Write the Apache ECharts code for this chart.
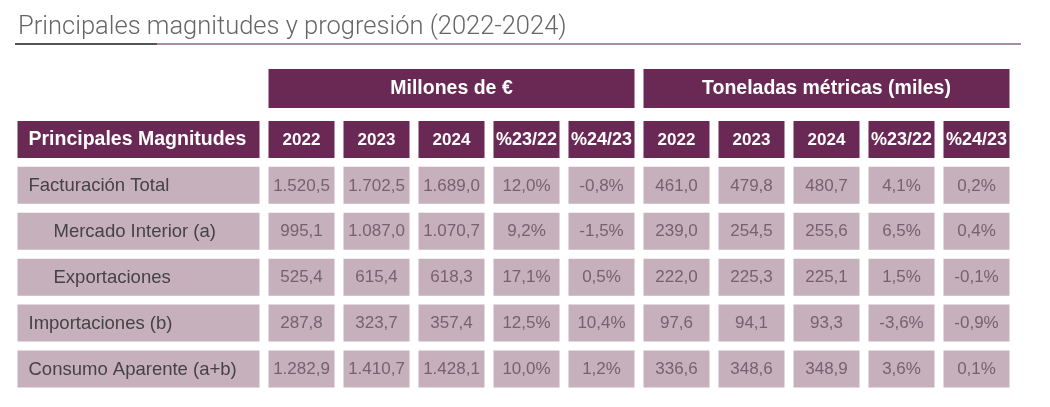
<!DOCTYPE html>
<html>
<head>
<meta charset="utf-8">
<script src="https://cdn.jsdelivr.net/npm/echarts@6/dist/echarts.min.js"></script>
<style>
  html, body { margin: 0; padding: 0; background: #fff; }
  #chart { width: 1050px; height: 407px; }
</style>
</head>
<body>
<div id="chart"></div>
<script>
var titleText = 'Principales magnitudes y progresión (2022-2024)';
var groups = ['Millones de €', 'Toneladas métricas (miles)'];
var columns = ['2022', '2023', '2024', '%23/22', '%24/23', '2022', '2023', '2024', '%23/22', '%24/23'];
var pctColumns = [3, 4, 8, 9];
var rowHeader = 'Principales Magnitudes';
var rows = ['Facturación Total', 'Mercado Interior (a)', 'Exportaciones', 'Importaciones (b)', 'Consumo Aparente (a+b)'];
var rowLevel = [0, 1, 1, 0, 0];

var facturacionTotal = [1520.5, 1702.5, 1689.0, 12.0, -0.8, 461.0, 479.8, 480.7, 4.1, 0.2];
var mercadoInterior = [995.1, 1087.0, 1070.7, 9.2, -1.5, 239.0, 254.5, 255.6, 6.5, 0.4];
var exportaciones = [525.4, 615.4, 618.3, 17.1, 0.5, 222.0, 225.3, 225.1, 1.5, -0.1];
var importaciones = [287.8, 323.7, 357.4, 12.5, 10.4, 97.6, 94.1, 93.3, -3.6, -0.9];
var consumoAparente = [1282.9, 1410.7, 1428.1, 10.0, 1.2, 336.6, 348.6, 348.9, 3.6, 0.1];
var tableValues = [facturacionTotal, mercadoInterior, exportaciones, importaciones, consumoAparente];

var PURPLE = '#6a2955';
var MAUVE = '#c5b0bb';
var FONT = '"Liberation Sans", Arial, sans-serif';

// formato español: 1.520,5 / 12,0%
function fmt(v, isPct) {
    var s = Math.abs(v).toFixed(1).split('.');
    var ent = s[0].replace(/\B(?=(\d{3})+(?!\d))/g, '.');
    var out = (v < 0 ? '-' : '') + ent + ',' + s[1];
    return isPct ? out + '%' : out;
}

var yCats = [rowHeader].concat(rows);

var groupData = groups.map(function (g, i) { return [i, 0, 0]; });
var labelData = yCats.map(function (r, i) { return [0, i, i === 0 ? 0 : rowLevel[i - 1]]; });
var labelText = yCats.slice();
var cellData = [];
var cellText = [];
columns.forEach(function (c, j) { cellData.push([j, 0, 1]); cellText.push(c); });
tableValues.forEach(function (vals, i) {
    vals.forEach(function (v, j) {
        cellData.push([j, i + 1, 0]);
        cellText.push(fmt(v, pctColumns.indexOf(j) >= 0));
    });
});

function boxRender(texts, gap, cellH, textStyleFn, align) {
    return function (params, api) {
        var c = api.coord([api.value(0), api.value(1)]);
        var s = api.size([1, 1]);
        var w = s[0] - gap;
        var txt = texts[params.dataIndex];
        var st = textStyleFn(api, txt);
        var x0 = c[0] - w / 2;
        return {
            type: 'group',
            children: [{
                type: 'rect',
                shape: { x: x0, y: c[1] - cellH / 2, width: w, height: cellH },
                style: { fill: st.fill }
            }, {
                type: 'text',
                x: align === 'left' ? x0 + st.indent : c[0],
                y: c[1] + 0.5,
                style: {
                    text: txt,
                    fill: st.color,
                    font: st.font,
                    align: align,
                    verticalAlign: 'middle'
                }
            }]
        };
    };
}

var chart = echarts.init(document.getElementById('chart'));
chart.setOption({
    animation: false,
    title: {
        text: titleText,
        left: 13,
        top: 10,
        textStyle: { fontFamily: 'Roboto, sans-serif', fontWeight: 300, fontSize: 25.5, color: '#666' }
    },
    graphic: [
        { type: 'rect', shape: { x: 15, y: 43, width: 1006, height: 2 }, style: { fill: '#a88f9d' } },
        { type: 'rect', shape: { x: 15, y: 43, width: 142, height: 2 }, style: { fill: '#555' } }
    ],
    grid: [
        { left: 264, top: 65, width: 750, height: 47 },
        { left: 13, top: 116.5, width: 251, height: 275.4 },
        { left: 264, top: 116.5, width: 750, height: 275.4 }
    ],
    xAxis: [
        { gridIndex: 0, type: 'category', data: groups, show: false },
        { gridIndex: 1, type: 'category', data: ['label'], show: false },
        { gridIndex: 2, type: 'category', data: columns.map(function (c, i) { return 'c' + i; }), show: false }
    ],
    yAxis: [
        { gridIndex: 0, type: 'category', data: ['g'], show: false },
        { gridIndex: 1, type: 'category', data: yCats, inverse: true, show: false },
        { gridIndex: 2, type: 'category', data: yCats, inverse: true, show: false }
    ],
    series: [{
        type: 'custom',
        xAxisIndex: 0, yAxisIndex: 0,
        data: groupData,
        renderItem: boxRender(groups, 9, 39, function () {
            return { fill: PURPLE, color: '#fff', font: 'bold 19.5px ' + FONT };
        }, 'center')
    }, {
        type: 'custom',
        xAxisIndex: 1, yAxisIndex: 1,
        data: labelData,
        renderItem: boxRender(labelText, 9, 37, function (api) {
            var head = api.value(1) === 0;
            return {
                fill: head ? PURPLE : MAUVE,
                color: head ? '#fff' : '#464244',
                font: head ? 'bold 19.5px ' + FONT : '18.5px ' + FONT,
                indent: 11 + api.value(2) * 25
            };
        }, 'left')
    }, {
        type: 'custom',
        xAxisIndex: 2, yAxisIndex: 2,
        data: cellData,
        renderItem: boxRender(cellText, 9, 37, function (api, txt) {
            var head = api.value(2) === 1;
            var pct = txt.charAt(0) === '%';
            return {
                fill: head ? PURPLE : MAUVE,
                color: head ? '#fff' : '#76626e',
                font: head ? (pct ? 'bold 18px ' : 'bold 17px ') + FONT : '17px ' + FONT
            };
        }, 'center')
    }]
});
</script>
</body>
</html>
